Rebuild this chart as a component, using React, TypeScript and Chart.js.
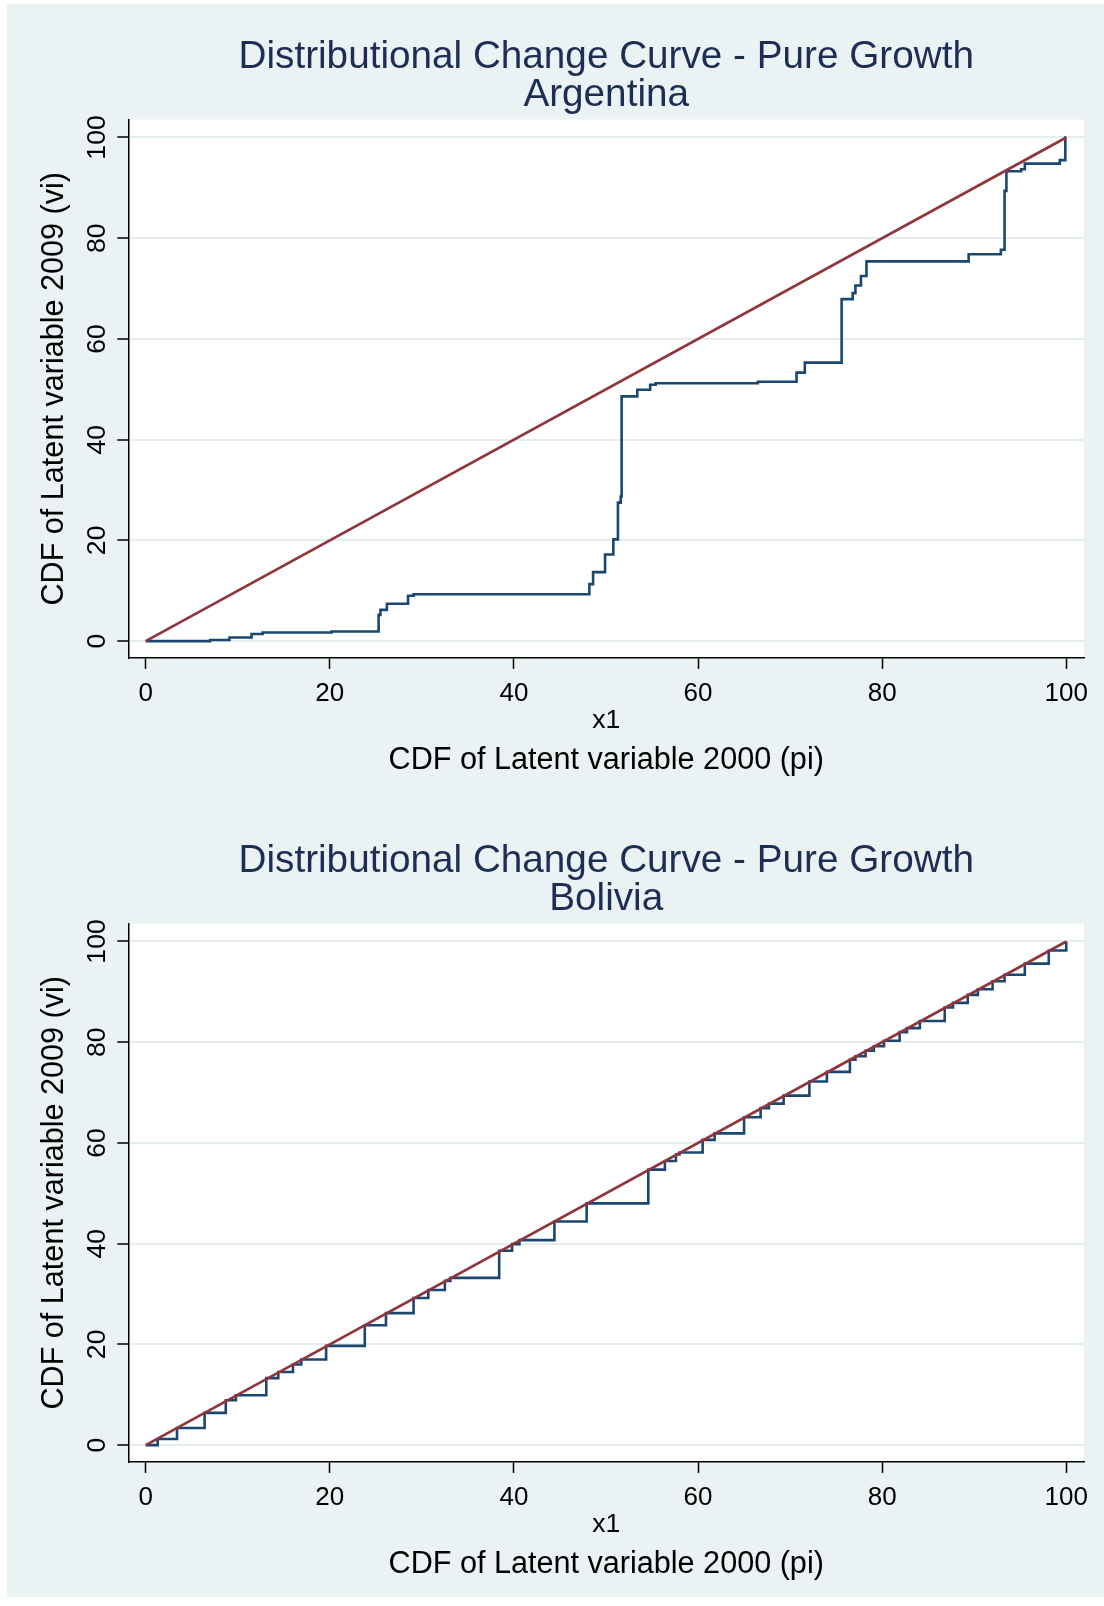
import { useEffect, useRef } from 'react';
import { Chart, registerables } from 'chart.js';

Chart.register(...registerables);
Chart.defaults.font.family = "'Liberation Sans', Arial, Helvetica, sans-serif";

const TITLE_LINE = 'Distributional Change Curve - Pure Growth';
const X_AXIS_TITLE = 'x1';
const X_CAPTION = 'CDF of Latent variable 2000 (pi)';
const Y_AXIS_TITLE = 'CDF of Latent variable 2009 (vi)';
const TICKS = [0, 20, 40, 60, 80, 100];

// 45-degree reference line
const diagX = [0, 100];
const diagY = [0, 100];

// Argentina step curve (jump points)
const argX = [0, 7.0, 9.1, 11.5, 12.7, 20.2, 25.3, 25.5, 26.2, 28.5, 29.1, 48.2, 48.6, 49.9, 50.8, 51.3, 51.6, 51.7, 53.4, 54.8, 55.4, 66.5, 70.7, 71.6, 75.6, 76.8, 77.1, 77.7, 78.3, 89.4, 92.9, 93.3, 93.5, 95.1, 95.5, 99.3, 99.9, 100];
const argY = [0, 0.2, 0.7, 1.4, 1.7, 1.9, 5.2, 6.2, 7.4, 9.0, 9.3, 11.3, 13.7, 17.2, 20.2, 27.5, 28.7, 48.6, 49.9, 50.9, 51.2, 51.5, 53.3, 55.3, 67.9, 69.1, 70.6, 72.5, 75.4, 76.8, 77.7, 89.4, 93.3, 93.7, 94.8, 95.5, 100, 100];

// Bolivia step curve (jump points)
const bolX = [0, 1.3, 3.4, 6.4, 8.7, 9.8, 13.1, 14.4, 16.0, 16.9, 19.6, 23.8, 26.1, 29.1, 30.7, 32.5, 33.1, 38.4, 39.8, 40.6, 44.4, 47.9, 54.6, 56.4, 57.6, 58.0, 60.5, 61.8, 65.0, 66.8, 67.7, 69.3, 72.1, 74.0, 76.5, 77.1, 78.2, 79.1, 80.2, 81.9, 82.7, 84.1, 86.8, 87.7, 89.3, 90.4, 92.0, 93.3, 95.5, 98.1, 100];
const bolY = [0, 1.2, 3.4, 6.4, 8.9, 9.9, 13.3, 14.5, 16.0, 17.0, 19.7, 23.8, 26.2, 29.2, 30.8, 32.6, 33.2, 38.6, 39.9, 40.7, 44.4, 48.0, 54.7, 56.4, 57.7, 58.1, 60.6, 61.9, 65.1, 66.9, 67.8, 69.4, 72.2, 74.1, 76.5, 77.2, 78.3, 79.2, 80.3, 82.0, 82.8, 84.2, 86.9, 87.8, 89.4, 90.5, 92.1, 93.4, 95.6, 98.2, 100];

const BG = '#EAF2F3';
const GRID = '#E4EDF0';
const NAVY = '#1A476F';
const MAROON = '#90353B';
const TITLE_COLOR = '#1E2D54';

const CW = 1097;
const CH = 789;

const plotBg = {
  id: 'plotBg',
  beforeDraw(chart: any) {
    const { ctx, chartArea: a } = chart;
    ctx.save();
    ctx.fillStyle = '#ffffff';
    ctx.fillRect(a.left, a.top, a.right - a.left, a.bottom - a.top);
    ctx.restore();
  },
};

const setTicks = (axis: any) => {
  axis.ticks = TICKS.map((v) => ({ value: v }));
};

function Panel({ country, xs, ys, top }: { country: string; xs: number[]; ys: number[]; top: number }) {
  const ref = useRef<HTMLCanvasElement | null>(null);
  useEffect(() => {
    if (!ref.current) return;
    const chart = new Chart(ref.current, {
      type: 'scatter',
      data: {
        datasets: [
          {
            data: diagX.map((x, i) => ({ x, y: diagY[i] })),
            showLine: true,
            borderColor: MAROON,
            borderWidth: 2.7,
            pointRadius: 0,
            order: 0,
          },
          {
            data: xs.map((x, i) => ({ x, y: ys[i] })),
            showLine: true,
            stepped: true,
            borderColor: NAVY,
            borderWidth: 2.6,
            pointRadius: 0,
            order: 1,
          },
        ],
      },
      options: {
        animation: false,
        responsive: false,
        devicePixelRatio: 1,
        layout: { padding: { left: 0, right: 19.9, top: 0, bottom: 0 } },
        plugins: {
          legend: { display: false },
          tooltip: { enabled: false },
          title: {
            display: true,
            text: [TITLE_LINE, country],
            color: TITLE_COLOR,
            fullSize: false,
            font: { size: 38.7, weight: 'normal', lineHeight: 0.987 },
            padding: { top: 33.8, bottom: 5.4 },
          },
          subtitle: {
            display: true,
            position: 'bottom',
            text: X_CAPTION,
            color: '#000000',
            fullSize: false,
            font: { size: 30.6, weight: 'normal', lineHeight: 1 },
            padding: { top: 11.5, bottom: 16.9 },
          },
        },
        scales: {
          x: {
            type: 'linear',
            min: -1.89,
            max: 101.94,
            afterBuildTicks: setTicks,
            afterFit: (s: any) => {
              s.height = 76.1;
            },
            grid: { drawOnChartArea: false, drawTicks: true, tickLength: 11, tickColor: '#000000', tickWidth: 1.5 },
            border: { display: true, color: '#000000', width: 1.5 },
            ticks: { color: '#000000', font: { size: 26, lineHeight: 1 }, padding: 12, minRotation: 0, maxRotation: 0, autoSkip: false },
            title: { display: true, text: X_AXIS_TITLE, color: '#000000', font: { size: 26.6, lineHeight: 1 }, padding: { top: 0, bottom: 0 } },
          },
          y: {
            type: 'linear',
            min: -3.34,
            max: 103.55,
            afterBuildTicks: setTicks,
            afterFit: (s: any) => {
              s.width = 121.3;
            },
            grid: { color: GRID, lineWidth: 2, drawTicks: true, tickLength: 11, tickColor: '#000000', tickWidth: 1.5 },
            border: { display: true, color: '#000000', width: 1.5 },
            ticks: { color: '#000000', font: { size: 26.6 }, padding: -2.4, minRotation: 90, maxRotation: 90, crossAlign: 'center', autoSkip: false },
            title: { display: true, text: Y_AXIS_TITLE, color: '#000000', font: { size: 30.6, lineHeight: 1 }, padding: { top: 32.1, bottom: 0 } },
          },
        },
      } as any,
      plugins: [plotBg],
    });
    return () => chart.destroy();
  }, [country, xs, ys]);
  return (
    <canvas
      ref={ref}
      width={CW}
      height={CH}
      style={{ position: 'absolute', left: 0, top, display: 'block' }}
    />
  );
}

export default function App() {
  return (
    <div style={{ position: 'absolute', left: 7, top: 4, width: CW, height: 1593, background: BG, overflow: 'hidden' }}>
      <Panel country="Argentina" xs={argX} ys={argY} top={0} />
      <Panel country="Bolivia" xs={bolX} ys={bolY} top={804} />
    </div>
  );
}
